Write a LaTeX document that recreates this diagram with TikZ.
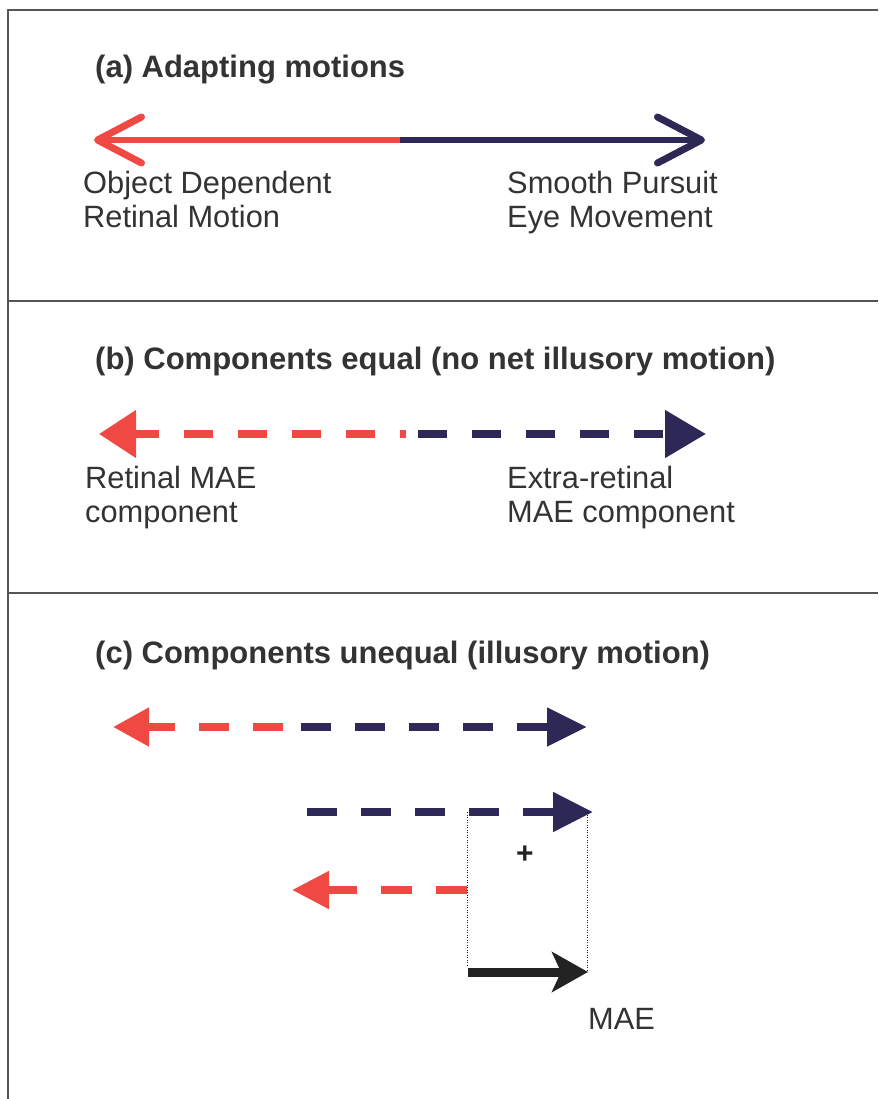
\documentclass[tikz,border=0pt]{standalone}
\usepackage{fontspec}
\setmainfont{Liberation Sans}
\usetikzlibrary{arrows.meta}
\definecolor{redc}{RGB}{240,72,66}
\definecolor{navy}{RGB}{45,40,85}
\definecolor{txt}{RGB}{51,51,51}
\definecolor{framec}{RGB}{85,85,85}
\definecolor{blk}{RGB}{35,35,35}
\begin{document}
\begin{tikzpicture}[x=1pt,y=-1pt,
  titletext/.style={font=\fontsize{31pt}{34pt}\selectfont\bfseries, text=txt, anchor=base west, inner sep=0pt},
  lbl/.style={font=\fontsize{30.8pt}{34pt}\selectfont, text=txt, align=left, anchor=base west, inner sep=0pt},
  framel/.style={framec, line width=1.5pt},
  reddash/.style={redc, line width=8pt},
  navydash/.style={navy, line width=8pt},
  dotl/.style={blk, line width=0.8pt, dash pattern=on 1pt off 1.5pt}
]
\useasboundingbox[fill=white] (0,0) rectangle (878,1099);
% frame
\coordinate (f1) at (878,10);
\coordinate (f2) at (8,10);
\coordinate (f3) at (8,1099);
\coordinate (d1l) at (8,301);
\coordinate (d1r) at (878,301);
\coordinate (d2l) at (8,593);
\coordinate (d2r) at (878,593);
\draw[framel] (f1) -- (f2) -- (f3);
\draw[framel] (d1l) -- (d1r);
\draw[framel] (d2l) -- (d2r);

% panel a
\node[titletext] (ta) at (95,78) {(a) Adapting motions};
\coordinate (amid) at (400,140);
\coordinate (aL) at (94,140);
\coordinate (aR) at (705,140);
\draw[redc, line width=5.5pt, -{Straight Barb[length=44pt,width=46pt,line width=7pt,round]}] (amid) -- (aL);
\draw[navy, line width=5.5pt, -{Straight Barb[length=44pt,width=46pt,line width=7pt,round]}] (amid) -- (aR);
\node[lbl] (la1) at (83,228) {Object Dependent\\Retinal Motion};
\node[lbl] (la2) at (507,228) {Smooth Pursuit\\Eye Movement};

% panel b
\node[titletext] (tb) at (95,369) {(b) Components equal (no net illusory motion)};
\coordinate (bmidL) at (406,434);
\coordinate (bL) at (99,434);
\coordinate (bmidR) at (418,434);
\coordinate (bR) at (706,434);
\draw[reddash, dash pattern=on 29pt off 25pt, dash phase=23pt, -{Triangle[length=37pt,width=46pt]}] (bmidL) -- (bL);
\draw[navydash, dash pattern=on 29pt off 25pt, -{Triangle[length=41pt,width=46pt]}] (bmidR) -- (bR);
\node[lbl] (lb1) at (85,522) {Retinal MAE\\component};
\node[lbl] (lb2) at (507,522) {Extra-retinal\\MAE component};

% panel c
\node[titletext] (tc) at (95,663) {(c) Components unequal (illusory motion)};
\coordinate (c1midL) at (283,727);
\coordinate (c1L) at (113,727);
\coordinate (c1midR) at (301,727);
\coordinate (c1R) at (587,727);
\draw[reddash, dash pattern=on 30pt off 24pt, -{Triangle[length=36pt,width=37pt]}] (c1midL) -- (c1L);
\draw[navydash, dash pattern=on 30pt off 24pt, -{Triangle[length=40pt,width=37pt]}] (c1midR) -- (c1R);

\coordinate (c2s) at (307,812);
\coordinate (c2e) at (593,812);
\draw[navydash, dash pattern=on 30pt off 24pt, -{Triangle[length=40pt,width=38pt]}] (c2s) -- (c2e);
\coordinate (c3s) at (467,890);
\coordinate (c3e) at (292,890);
\draw[reddash, dash pattern=on 31pt off 24pt, -{Triangle[length=37pt,width=36pt]}] (c3s) -- (c3e);

\coordinate (dlt) at (467,812);
\coordinate (dlb) at (467,965);
\coordinate (drt) at (587,812);
\coordinate (drb) at (587,972);
\draw[dotl] (dlt) -- (dlb);
\draw[dotl] (drt) -- (drb);

\coordinate (ms) at (468,972);
\coordinate (me) at (588,972);
\draw[blk, line width=9pt, -{Stealth[length=36pt,width=40pt,inset=9pt]}] (ms) -- (me);

\node[font=\fontsize{30pt}{32pt}\selectfont\bfseries, text=blk, inner sep=0pt] (plus) at (525,855) {+};
\node[lbl] (mae) at (588,1029) {MAE};
\end{tikzpicture}
\end{document}
